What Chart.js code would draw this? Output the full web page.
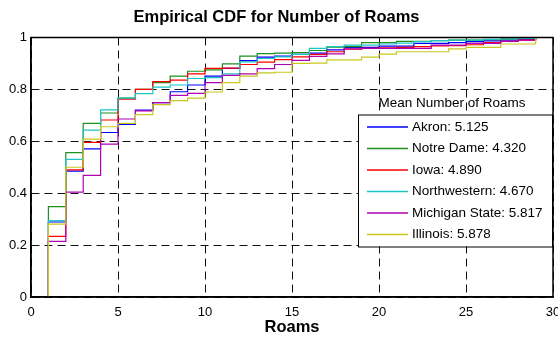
<!DOCTYPE html>
<html>
<head>
<meta charset="utf-8">
<script src="https://cdn.jsdelivr.net/npm/chart.js@4/dist/chart.umd.min.js"></script>
<style>
  html, body { margin: 0; padding: 0; background: #fff; }
</style>
</head>
<body>
<canvas id="chart-cdf" width="558" height="337"></canvas>
<script>
const FONT = "'Liberation Sans', Arial, Helvetica, sans-serif";

// roams (x) and empirical CDF after each step
const roams = [1, 2, 3, 4, 5, 6, 7, 8, 9, 10, 11, 12, 13, 14, 15, 16, 17, 18, 19, 20, 21, 22, 23, 24, 25, 26, 27, 28, 29];
const akron = [0.289, 0.485, 0.571, 0.634, 0.665, 0.72, 0.749, 0.791, 0.817, 0.851, 0.881, 0.911, 0.924, 0.928, 0.935, 0.94, 0.952, 0.962, 0.962, 0.967, 0.967, 0.977, 0.977, 0.98, 0.984, 0.987, 0.99, 0.993, 1];
const notreDame = [0.348, 0.556, 0.669, 0.709, 0.766, 0.8, 0.826, 0.851, 0.87, 0.875, 0.898, 0.928, 0.938, 0.94, 0.942, 0.95, 0.963, 0.965, 0.98, 0.98, 0.985, 0.985, 0.988, 0.99, 0.99, 0.992, 0.994, 0.996, 1];
const iowa = [0.234, 0.49, 0.596, 0.682, 0.762, 0.8, 0.83, 0.836, 0.86, 0.881, 0.882, 0.896, 0.905, 0.915, 0.925, 0.935, 0.945, 0.955, 0.958, 0.96, 0.962, 0.965, 0.968, 0.969, 0.972, 0.98, 0.985, 0.99, 1];
const northwestern = [0.294, 0.53, 0.643, 0.721, 0.766, 0.784, 0.809, 0.817, 0.842, 0.845, 0.86, 0.906, 0.919, 0.925, 0.935, 0.958, 0.965, 0.971, 0.971, 0.975, 0.978, 0.984, 0.988, 0.99, 0.99, 0.993, 0.995, 0.997, 1];
const michiganState = [0.214, 0.404, 0.469, 0.589, 0.686, 0.717, 0.749, 0.777, 0.785, 0.826, 0.854, 0.86, 0.88, 0.896, 0.912, 0.927, 0.937, 0.956, 0.958, 0.958, 0.958, 0.958, 0.971, 0.971, 0.977, 0.977, 0.985, 0.99, 1];
const illinois = [0.281, 0.5, 0.608, 0.656, 0.669, 0.703, 0.741, 0.757, 0.766, 0.79, 0.826, 0.851, 0.864, 0.866, 0.9, 0.901, 0.914, 0.914, 0.924, 0.936, 0.945, 0.945, 0.945, 0.956, 0.962, 0.962, 0.975, 0.975, 1];

const schools = ["Akron", "Notre Dame", "Iowa", "Northwestern", "Michigan State", "Illinois"];
const meanRoams = ["5.125", "4.320", "4.890", "4.670", "5.817", "5.878"];
const seriesValues = [akron, notreDame, iowa, northwestern, michiganState, illinois];
const seriesColors = ["#0000ff", "#1f8f1f", "#ff0000", "#1fc4c4", "#b000b0", "#c8c81e"];

const xTicks = [0, 5, 10, 15, 20, 25, 30];
const yTicks = [0, 0.2, 0.4, 0.6, 0.8, 1];

// stairs start at (first roam, 0)
function toSteps(values) {
  const pts = [{ x: roams[0], y: 0 }];
  values.forEach((v, i) => pts.push({ x: roams[i], y: v }));
  return pts;
}

// black box round the plot area
const frameBox = {
  id: "frameBox",
  afterDatasetsDraw(chart) {
    const { ctx, chartArea: a } = chart;
    ctx.save();
    ctx.strokeStyle = "#000";
    ctx.lineWidth = 1.5;
    ctx.strokeRect(a.left, a.top, a.right - a.left, a.bottom - a.top);
    ctx.restore();
  },
};

// legend box inside the plot, titled
const meanLegend = {
  id: "meanLegend",
  afterDatasetsDraw(chart) {
    const { ctx, chartArea: a } = chart;
    const w = 194, h = 132;
    const left = a.right - 1 - w;
    const top = a.top + 77;
    const rowH = 21.5;
    ctx.save();
    ctx.font = "13.5px " + FONT;
    ctx.fillStyle = "#000";
    ctx.textAlign = "center";
    ctx.textBaseline = "middle";
    ctx.fillText("Mean Number of Roams", left + 94, top - 11);

    ctx.fillStyle = "#fff";
    ctx.fillRect(left, top, w, h);
    ctx.strokeStyle = "#000";
    ctx.lineWidth = 1;
    ctx.strokeRect(left + 0.5, top + 0.5, w, h);

    ctx.textAlign = "left";
    chart.data.datasets.forEach((ds, i) => {
      const y = top + 12.5 + i * rowH;
      ctx.strokeStyle = ds.borderColor;
      ctx.lineWidth = 1.3;
      ctx.beginPath();
      ctx.moveTo(left + 9, y);
      ctx.lineTo(left + 50, y);
      ctx.stroke();
      ctx.fillStyle = "#000";
      ctx.fillText(ds.label, left + 54, y);
    });
    ctx.restore();
  },
};

const ctx = document.getElementById("chart-cdf").getContext("2d");

new Chart(ctx, {
  type: "line",
  data: {
    datasets: seriesValues.map((vals, i) => ({
      label: schools[i] + ": " + meanRoams[i],
      data: toSteps(vals),
      borderColor: seriesColors[i],
      borderWidth: 1.2,
      stepped: true,
      pointRadius: 0,
      fill: false,
      order: seriesValues.length - i,
    })),
  },
  plugins: [frameBox, meanLegend],
  options: {
    responsive: false,
    animation: false,
    layout: { padding: { left: 0, right: 5, top: 0, bottom: 0 } },
    scales: {
      x: {
        type: "linear",
        min: 0,
        max: 30,
        afterBuildTicks: (s) => { s.ticks = xTicks.map((v) => ({ value: v })); },
        afterFit: (s) => { s.paddingLeft = 0; s.paddingRight = 0; s.height = 40; },
        ticks: {
          color: "#000",
          padding: 8,
          maxRotation: 0,
          autoSkip: false,
          font: { family: FONT, size: 13 },
        },
        grid: { color: "#111", lineWidth: 1, drawTicks: false },
        border: { display: true, color: "#000", width: 1.5, dash: [8, 5] },
        title: {
          display: true,
          text: "Roams",
          color: "#000",
          padding: { top: 0, bottom: 0 },
          font: { family: FONT, size: 16.5, weight: "bold" },
        },
      },
      y: {
        min: 0,
        max: 1,
        afterBuildTicks: (s) => { s.ticks = yTicks.map((v) => ({ value: v })); },
        afterFit: (s) => { s.width = 31; },
        ticks: {
          color: "#000",
          padding: 4,
          font: { family: FONT, size: 13 },
          callback: (v) => String(Math.round(v * 10) / 10),
        },
        grid: { color: "#111", lineWidth: 1, drawTicks: false },
        border: { display: true, color: "#000", width: 1.5, dash: [8, 5] },
      },
    },
    plugins: {
      legend: { display: false },
      tooltip: { enabled: false },
      title: {
        display: true,
        text: "Empirical CDF for Number of Roams",
        color: "#000",
        padding: { top: 9, bottom: 12 },
        font: { family: FONT, size: 16.5, weight: "bold", lineHeight: 1 },
      },
    },
  },
});
</script>
</body>
</html>
